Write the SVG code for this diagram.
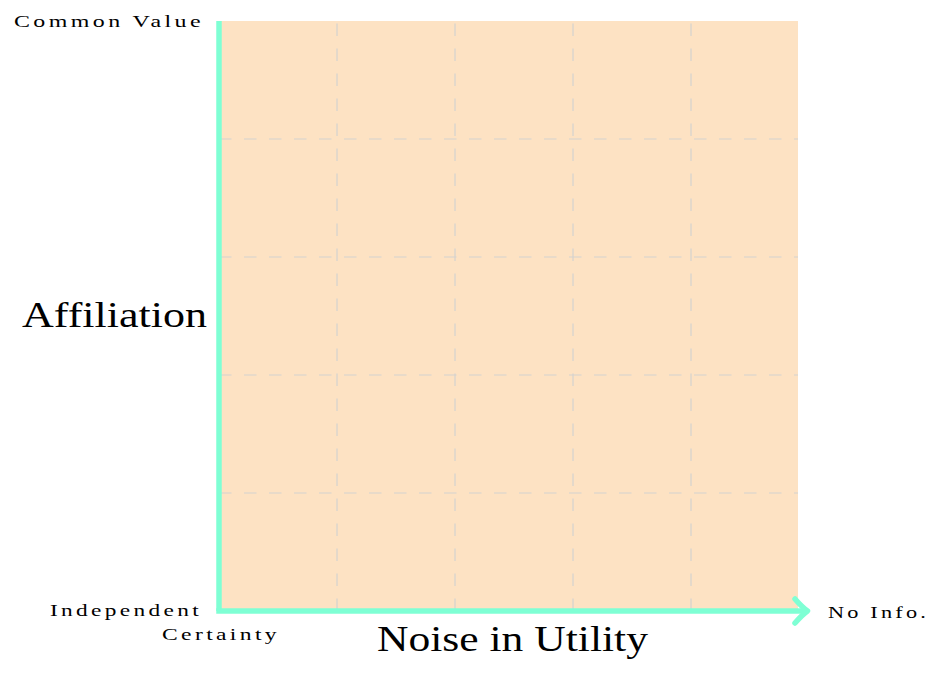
<svg xmlns="http://www.w3.org/2000/svg" width="942" height="679" viewBox="0 0 942 679">
<style>
.lbl{font-family:"Liberation Serif","DejaVu Serif",serif;fill:#000}
.sm{font-size:17.5px;letter-spacing:2.5px}
.lg{font-size:35px}
.grid{stroke:#d4d2cf;stroke-width:1.2;stroke-dasharray:12.5 12.5;fill:none}
.axis{stroke:#7FFFD4;stroke-width:5.5;fill:none}
</style>
<rect id="region" x="219" y="21" width="579" height="590" fill="#FDE2C3"/>
<g id="grid">
<line class="grid" x1="219" y1="139" x2="798" y2="139"/>
<line class="grid" x1="219" y1="257" x2="798" y2="257"/>
<line class="grid" x1="219" y1="375" x2="798" y2="375"/>
<line class="grid" x1="219" y1="493" x2="798" y2="493"/>
<line class="grid" x1="337" y1="611" x2="337" y2="21"/>
<line class="grid" x1="455" y1="611" x2="455" y2="21"/>
<line class="grid" x1="573" y1="611" x2="573" y2="21"/>
<line class="grid" x1="691" y1="611" x2="691" y2="21"/>
</g>
<g id="connectors">
<line class="axis" x1="219" y1="21" x2="219" y2="611"/>
<line class="axis" x1="216.25" y1="611" x2="805" y2="611"/>
<path class="axis" d="M795 599 Q802 607 807.5 611 Q802 615 795 623" stroke-linecap="round" stroke-linejoin="round"/>
</g>
<g id="labels">
<text class="lbl sm" x="14" y="27" textLength="190" lengthAdjust="spacingAndGlyphs">Common Value</text>
<text class="lbl lg" x="22" y="327" textLength="185" lengthAdjust="spacingAndGlyphs">Affiliation</text>
<text class="lbl lg" x="377" y="651" textLength="271" lengthAdjust="spacingAndGlyphs">Noise in Utility</text>
<text class="lbl sm" x="50" y="616" textLength="152" lengthAdjust="spacingAndGlyphs">Independent</text>
<text class="lbl sm" x="162" y="640" textLength="118" lengthAdjust="spacingAndGlyphs">Certainty</text>
<text class="lbl sm" x="828" y="618" textLength="101" lengthAdjust="spacingAndGlyphs">No Info.</text>
</g>
</svg>
